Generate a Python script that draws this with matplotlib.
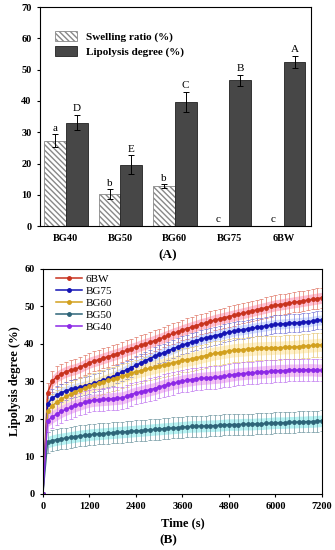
import numpy as np
import matplotlib.pyplot as plt

plt.rcParams['font.family'] = ['Liberation Serif', 'DejaVu Serif']

# Panel A data
groups = ['BG40', 'BG50', 'BG60', 'BG75', '6BW']
swelling = [27.3, 10.2, 12.8, 0, 0]
swelling_err = [2.0, 1.5, 0.5, 0, 0]
swelling_lbl = ['a', 'b', 'b', 'c', 'c']
lipolysis = [33.1, 19.6, 39.8, 46.6, 52.4]
lipolysis_err = [2.5, 3.0, 3.2, 1.7, 2.0]
lipolysis_lbl = ['D', 'E', 'C', 'B', 'A']

# Panel B data (time in s, lipolysis degree in %)
time_s = list(range(0, 7201, 120))
bw6 = [0, 27.0, 30.0, 31.3, 32.0, 32.6, 33.0, 33.3, 33.8, 34.4, 35.0, 35.4, 35.8, 36.2, 36.6, 37.0,
       37.4, 37.8, 38.3, 38.7, 39.1, 39.6, 40.0, 40.4, 40.9, 41.3, 41.8, 42.3, 42.8, 43.2, 43.7,
       44.1, 44.5, 44.9, 45.3, 45.6, 46.0, 46.4, 46.7, 47.0, 47.3, 47.6, 47.9, 48.2, 48.5, 48.8,
       49.1, 49.4, 49.7, 50.0, 50.3, 50.5, 50.7, 50.9, 51.1, 51.3, 51.5, 51.7, 51.9, 52.1, 52.3]
bg75 = [0, 24.0, 25.5, 26.3, 27.0, 27.5, 27.9, 28.2, 28.5, 28.8, 29.1, 29.5, 29.9, 30.3, 30.8, 31.3,
        31.9, 32.5, 33.1, 33.7, 34.3, 34.9, 35.5, 36.1, 36.7, 37.2, 37.7, 38.2, 38.7, 39.2, 39.7,
        40.1, 40.5, 40.9, 41.3, 41.6, 41.9, 42.2, 42.5, 42.8, 43.1, 43.4, 43.6, 43.8, 44.0, 44.2,
        44.4, 44.6, 44.8, 45.0, 45.2, 45.3, 45.4, 45.5, 45.6, 45.7, 45.8, 45.9, 46.1, 46.3, 46.4]
bg60 = [0, 22.0, 23.5, 24.5, 25.3, 26.0, 26.6, 27.2, 27.7, 28.2, 28.7, 29.1, 29.5, 29.9, 30.3, 30.6,
        31.0, 31.4, 31.8, 32.2, 32.6, 32.9, 33.2, 33.5, 33.8, 34.1, 34.4, 34.7, 35.0, 35.3, 35.6,
        35.8, 36.0, 36.3, 36.6, 36.9, 37.2, 37.5, 37.7, 37.9, 38.1, 38.3, 38.4, 38.5, 38.6, 38.7,
        38.8, 38.8, 38.9, 38.9, 39.0, 39.0, 39.1, 39.1, 39.2, 39.3, 39.4, 39.5, 39.6, 39.7, 39.8]
bg50 = [0, 13.8, 14.2, 14.5, 14.7, 14.9, 15.1, 15.3, 15.5, 15.6, 15.8, 15.9, 16.0, 16.1, 16.2, 16.3,
        16.4, 16.5, 16.6, 16.7, 16.8, 16.9, 17.0, 17.1, 17.2, 17.3, 17.4, 17.5, 17.6, 17.7, 17.8,
        17.9, 18.0, 18.0, 18.1, 18.1, 18.2, 18.2, 18.3, 18.4, 18.5, 18.5, 18.5, 18.6, 18.6, 18.6,
        18.7, 18.7, 18.8, 18.9, 19.0, 19.0, 19.0, 19.1, 19.1, 19.2, 19.2, 19.3, 19.3, 19.4, 19.5]
bg40 = [0, 19.5, 20.5, 21.3, 22.0, 22.6, 23.1, 23.6, 24.0, 24.4, 24.8, 25.0, 25.1, 25.2, 25.3, 25.4,
        25.5, 25.6, 26.0, 26.5, 26.9, 27.2, 27.5, 27.8, 28.1, 28.5, 28.9, 29.2, 29.5, 29.8, 30.1,
        30.3, 30.5, 30.7, 30.8, 30.9, 31.0, 31.1, 31.2, 31.4, 31.6, 31.8, 32.0, 32.1, 32.2, 32.3,
        32.4, 32.5, 32.6, 32.7, 32.8, 32.9, 32.9, 33.0, 33.0, 33.0, 33.1, 33.1, 33.1, 33.0, 33.0]
series_names = ['6BW', 'BG75', 'BG60', 'BG50', 'BG40']
series_vals = [bw6, bg75, bg60, bg50, bg40]
series_err = [2.7, 2.4, 3.2, 2.8, 3.0]

line_cols = ['#c8321e', '#1414b4', '#d2a01e', '#2d6478', '#8c28e6']
err_cols = ['#e07868', '#7878d8', '#e6c878', '#6e96a0', '#c078f0']
band_cols = ['#ffb4cc', '#ccdaff', '#ffeebe', '#a8f2f2', '#f2b8f2']

fig = plt.figure(figsize=(3.35, 5.5), dpi=100)

# (A) bar chart
ax1 = fig.add_axes([0.119, 0.589, 0.809, 0.398])
x = np.arange(len(groups))
w = 0.4
ax1.bar(x - w / 2, swelling, w, color='white', edgecolor='#888888', hatch='\\\\\\\\\\\\', linewidth=0.6,
        label='Swelling ratio (%)')
ax1.bar(x + w / 2, lipolysis, w, color='#474747', edgecolor='#222222', linewidth=0.6,
        label='Lipolysis degree (%)')
for i in range(len(groups)):
    if swelling[i] > 0:
        ax1.errorbar(x[i] - w / 2, swelling[i], yerr=swelling_err[i], color='black', capsize=2,
                     elinewidth=0.7, capthick=0.7)
    ax1.errorbar(x[i] + w / 2, lipolysis[i], yerr=lipolysis_err[i], color='black', capsize=2,
                 elinewidth=0.7, capthick=0.7)
    ax1.text(x[i] - w / 2, swelling[i] + swelling_err[i] + 0.6, swelling_lbl[i], ha='center',
             va='bottom', fontsize=8)
    ax1.text(x[i] + w / 2, lipolysis[i] + lipolysis_err[i] + 0.6, lipolysis_lbl[i], ha='center',
             va='bottom', fontsize=8)
ax1.set_xlim(-0.48, 4.5)
ax1.set_ylim(0, 70)
ax1.set_yticks(range(0, 71, 10))
ax1.set_xticks(x)
ax1.set_xticklabels(groups, fontweight='bold', fontsize=7.5)
ax1.tick_params(axis='x', length=0, pad=6)
ax1.tick_params(axis='y', labelsize=7.5, length=2.5, width=0.8)
for lbl in ax1.get_yticklabels():
    lbl.set_fontweight('bold')
ax1.legend(loc='upper left', bbox_to_anchor=(0.04, 0.91), frameon=False,
           prop={'weight': 'bold', 'size': 8}, handlelength=2.0, handleheight=1.0,
           labelspacing=0.3, borderaxespad=0)
fig.text(0.502, 0.536, '(A)', ha='center', va='center', fontsize=9.5, fontweight='bold')

# (B) lipolysis kinetics
ax2 = fig.add_axes([0.128, 0.102, 0.833, 0.409])
for name, vals, err, lc, ec, bc in zip(series_names, series_vals, series_err, line_cols, err_cols, band_cols):
    v = np.array(vals)
    ax2.fill_between(time_s[1:], v[1:] - err * 0.55, v[1:] + err * 0.55, color=bc, alpha=0.85,
                     linewidth=0)
    ax2.errorbar(time_s[1:], v[1:], yerr=err, fmt='none', ecolor=ec, elinewidth=0.5, capsize=1.5,
                 capthick=0.5)
for name, vals, lc in zip(series_names, series_vals, line_cols):
    ax2.plot(time_s, vals, color=lc, marker='o', markersize=2.5, linewidth=1.1, label=name)
ax2.set_xlim(0, 7200)
ax2.set_ylim(0, 60)
ax2.set_xticks(range(0, 7201, 1200))
ax2.set_yticks(range(0, 61, 10))
ax2.tick_params(labelsize=7.5, length=2.5, width=0.8)
for lbl in ax2.get_xticklabels() + ax2.get_yticklabels():
    lbl.set_fontweight('bold')
ax2.set_xlabel('Time (s)', fontsize=9, fontweight='bold', labelpad=4)
ax2.set_ylabel('Lipolysis degree (%)', fontsize=9, fontweight='bold', labelpad=2)
ax2.legend(loc='upper left', bbox_to_anchor=(0.03, 0.995), frameon=False, fontsize=8,
           handlelength=2.4, labelspacing=0.2, borderaxespad=0, handletextpad=0.3)
fig.text(0.502, 0.018, '(B)', ha='center', va='center', fontsize=9.5, fontweight='bold')

fig.savefig('out.png', dpi=100)
